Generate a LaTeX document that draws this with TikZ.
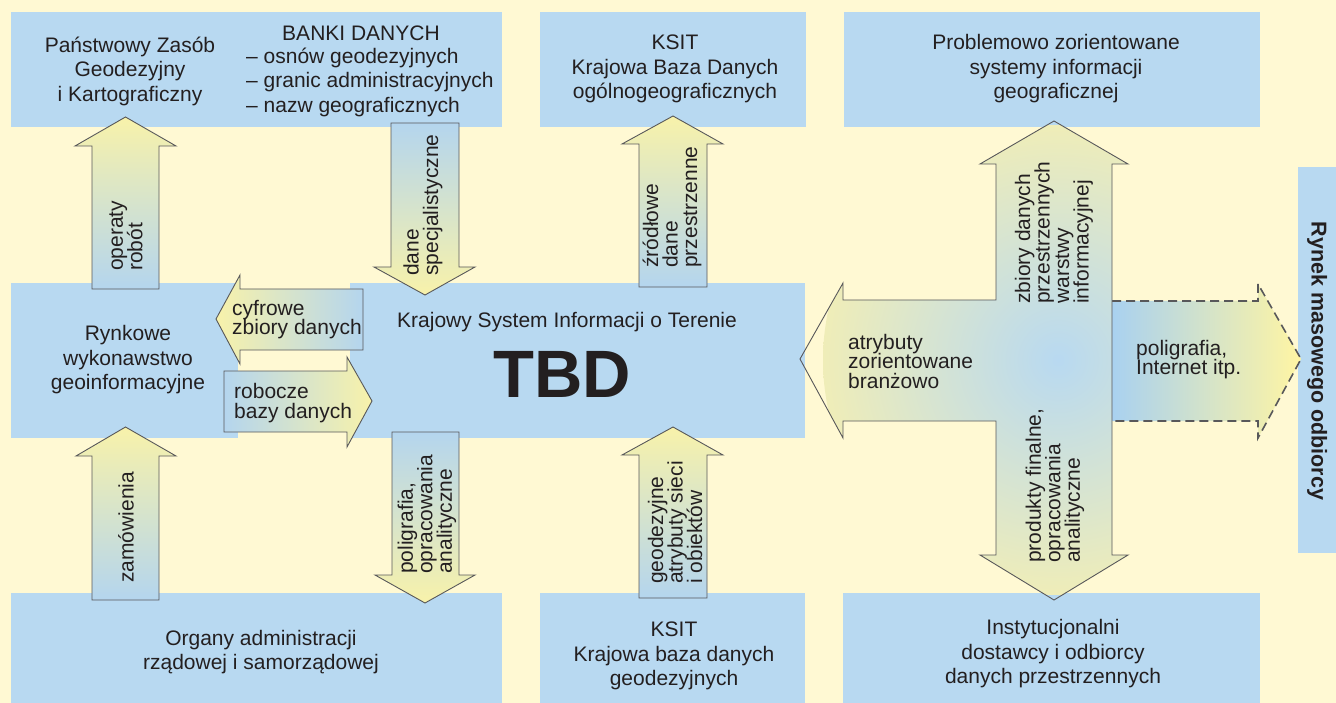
\documentclass[tikz,border=0pt]{standalone}
\usepackage{fontspec}
\setmainfont{Liberation Sans}
\usepackage{tikz}

\definecolor{bgyellow}{HTML}{FFF9D3}
\definecolor{boxblue}{HTML}{B8D9F1}
\definecolor{arrblue}{HTML}{B4D5EE}
\definecolor{arryellow}{HTML}{F8F2AA}
\definecolor{crossout}{HTML}{EFEDB8}
\definecolor{dashblue}{HTML}{A9D1F0}
\definecolor{dashyellow}{HTML}{FFF5A3}
\definecolor{linegray}{HTML}{58585A}
\definecolor{txtgray}{HTML}{231F20}

\newcommand\boxfont{\fontsize{21}{24.5}\selectfont\lineskiplimit=-30pt}
\newcommand\arrfont{\fontsize{21}{19.5}\selectfont\lineskiplimit=-30pt}

\begin{document}
\begin{tikzpicture}[x=1pt,y=-1pt,
  box/.style={fill=boxblue},
  fatarr/.style={draw=linegray,line width=0.9pt},
  uparr/.style={fatarr,top color=arryellow,bottom color=arrblue},
  downarr/.style={fatarr,top color=arrblue,bottom color=arryellow},
  leftarr/.style={fatarr,left color=arryellow,right color=arrblue},
  rightarr/.style={fatarr,left color=arrblue,right color=arryellow},
  boxtxt/.style={font=\boxfont,text=txtgray,align=center,inner sep=0pt},
  lab/.style={font=\arrfont,text=txtgray,align=left,inner sep=0pt,anchor=west},
  vlab/.style={lab,rotate=90}]

\fill[bgyellow] (0,0) rectangle (1336,703);

% boxes
\fill[box] (11,12) rectangle (502,127);
\fill[box] (540,12) rectangle (806,127);
\fill[box] (844,12) rectangle (1260,127);
\fill[box] (11,283) rectangle (238,438);
\fill[box] (350,283) rectangle (805,438);
\fill[box] (11,593) rectangle (502,703);
\fill[box] (540,593) rectangle (805,703);
\fill[box] (843,593) rectangle (1260,703);
\fill[box] (1298,167) rectangle (1336,553);

% single arrows
\shadedraw[uparr] (125.5,117) -- (176,146) -- (159,146) -- (159,289)
  -- (92,289) -- (92,146) -- (75,146) -- cycle;
\shadedraw[downarr] (391,123) -- (459,123) -- (459,267) -- (475,267)
  -- (425,295) -- (374,267) -- (391,267) -- cycle;
\shadedraw[uparr] (673,116) -- (723,144) -- (707,144) -- (707,287)
  -- (639,287) -- (639,144) -- (622,144) -- cycle;
\shadedraw[leftarr] (216,319) -- (240,275) -- (240,289) -- (363,289)
  -- (363,350) -- (240,350) -- (240,364) -- cycle;
\shadedraw[rightarr] (224,371) -- (347,371) -- (347,357) -- (372,401)
  -- (347,447) -- (347,432) -- (224,432) -- cycle;
\shadedraw[uparr] (125.5,427) -- (176,456) -- (159,456) -- (159,600)
  -- (92,600) -- (92,456) -- (76,456) -- cycle;
\shadedraw[downarr] (392,432) -- (459,432) -- (459,575) -- (475,575)
  -- (425,603) -- (375,575) -- (392,575) -- cycle;
\shadedraw[uparr] (673,427) -- (723,455) -- (707,455) -- (707,598)
  -- (639,598) -- (639,455) -- (622,455) -- cycle;

% dashed arrow to the market
\shade[left color=dashblue,right color=dashyellow] (1112,301) -- (1258,301)
  -- (1258,284) -- (1301,359) -- (1258,438) -- (1258,421) -- (1112,421) -- cycle;
\draw[linegray,line width=1.6pt,dash pattern=on 9pt off 5pt] (1112,301) -- (1258,301)
  -- (1258,284) -- (1301,359) -- (1258,438) -- (1258,421) -- (1112,421);

% cross
\begin{scope}
\clip (1054,121) -- (1128,164) -- (1112,164) -- (1112,555) -- (1128,555)
  -- (1054,600) -- (980,555) -- (996,555) -- (996,421) -- (843,421)
  -- (843,438) -- (800,359) -- (843,283) -- (843,300) -- (996,300)
  -- (996,164) -- (980,164) -- cycle;
\shade[inner color=boxblue,outer color=crossout] (1058,360) circle (235);
\end{scope}
\draw[fatarr] (1054,121) -- (1128,164) -- (1112,164) -- (1112,555) -- (1128,555)
  -- (1054,600) -- (980,555) -- (996,555) -- (996,421) -- (843,421)
  -- (843,438) -- (800,359) -- (843,283) -- (843,300) -- (996,300)
  -- (996,164) -- (980,164) -- cycle;

% box texts
\node[boxtxt] (pzgik) at (130,71) {Państwowy Zasób\\Geodezyjny\\i Kartograficzny};
\node[boxtxt] (banki) at (361,33) {BANKI DANYCH};
\node[boxtxt,align=left,anchor=west] (bankilist) at (246,82)
  {– osnów geodezyjnych\\– granic administracyjnych\\– nazw geograficznych};
\node[boxtxt] (ksitgora) at (675,69) {KSIT\\Krajowa Baza Danych\\ogólnogeograficznych};
\node[boxtxt] (problem) at (1056,69) {Problemowo zorientowane\\systemy informacji\\geograficznej};
\node[boxtxt] (rynkowe) at (128,360) {Rynkowe\\wykonawstwo\\geoinformacyjne};
\node[boxtxt] (ksit) at (567,322) {Krajowy System Informacji o Terenie};
\node[boxtxt,font=\fontsize{67}{67}\selectfont\bfseries] (tbd) at (562,374) {TBD};
\node[boxtxt] (organy) at (261,652) {Organy administracji\\rządowej i samorządowej};
\node[boxtxt] (ksitdol) at (674,656) {KSIT\\Krajowa baza danych\\geodezyjnych};
\node[boxtxt] (instyt) at (1053,654) {Instytucjonalni\\dostawcy i odbiorcy\\danych przestrzennych};
\node[boxtxt,font=\fontsize{21.5}{24}\selectfont\bfseries,rotate=-90] (rynek) at (1317,361)
  {Rynek masowego odbiorcy};

% arrow labels
\node[vlab] (operaty) at (126,271) {operaty\\robót};
\node[vlab] (specjal) at (423,276) {dane\\specjalistyczne};
\node[vlab] (zrodlowe) at (672,268) {źródłowe\\dane\\przestrzenne};
\node[vlab] (zbiory) at (1054,304) {zbiory danych\\przestrzennych\\warstwy\\informacyjnej};
\node[vlab] (produkty) at (1055,563) {produkty finalne,\\opracowania\\analityczne};
\node[vlab] (zamow) at (126,583) {zamówienia};
\node[vlab] (poligr) at (427,574) {poligrafia,\\opracowania\\analityczne};
\node[vlab] (geodez) at (675,584) {geodezyjne\\atrybuty sieci\\i obiektów};
\node[lab] (cyfrowe) at (232,319.5) {cyfrowe\\zbiory danych};
\node[lab] (robocze) at (234,403) {robocze\\bazy danych};
\node[lab] (atrybuty) at (848,361) {atrybuty\\zorientowane\\branżowo};
\node[lab] (internet) at (1136,359.5) {poligrafia,\\Internet itp.};
\end{tikzpicture}
\end{document}
